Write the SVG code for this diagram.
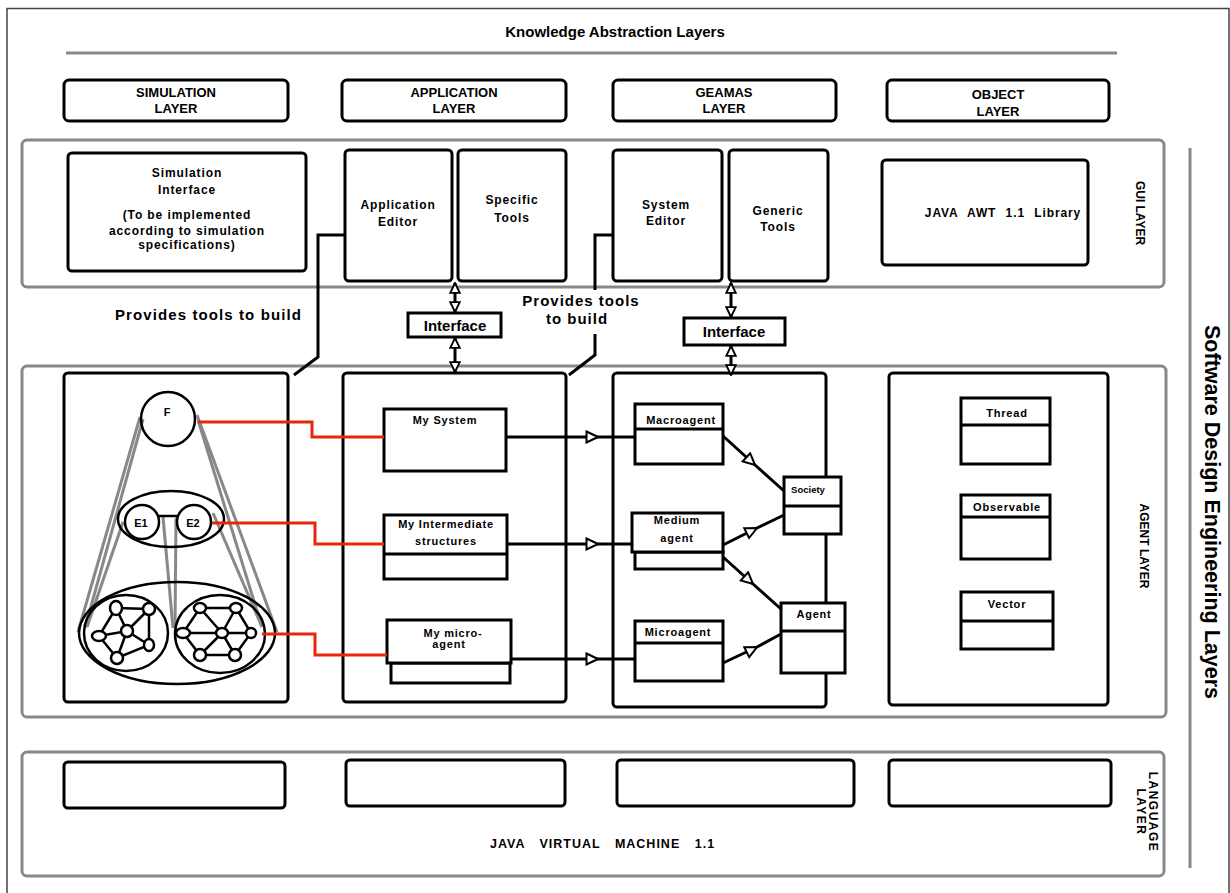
<svg xmlns="http://www.w3.org/2000/svg" width="1230" height="893" viewBox="0 0 1230 893">
<defs>
<style>
.t{font-family:"Liberation Sans",Arial,sans-serif;font-weight:bold;fill:#000}
.box{fill:#fff;stroke:#000;stroke-width:3}
.layer{fill:none;stroke:#888;stroke-width:3}
.ln{fill:none;stroke:#000;stroke-width:3}
.red{fill:none;stroke:#e8260a;stroke-width:3}
.cone{fill:none;stroke:#888;stroke-width:3}
.net{fill:none;stroke:#000;stroke-width:2.5}
.nd{fill:#fff;stroke:#000;stroke-width:2.5}
.g{letter-spacing:0.9px}
.c{letter-spacing:0.8px}
</style>
<marker id="tri" viewBox="0 0 14 14" markerWidth="14" markerHeight="14" refX="13" refY="7" orient="auto" markerUnits="userSpaceOnUse">
<path d="M1.5,1.5 L13,7 L1.5,12.5 Z" fill="#fff" stroke="#000" stroke-width="2"/>
</marker>
<marker id="tri2" viewBox="0 0 14 14" markerWidth="12" markerHeight="12" refX="13" refY="7" orient="auto-start-reverse" markerUnits="userSpaceOnUse">
<path d="M1.5,1.5 L13,7 L1.5,12.5 Z" fill="#fff" stroke="#000" stroke-width="2.2"/>
</marker>
</defs>
<rect width="1230" height="893" fill="#fff"/>
<!-- outer frame -->
<path d="M7,893 V8.5 H1229 V893" fill="none" stroke="#444" stroke-width="1.5"/>

<text class="t" x="615" y="37" font-size="15" text-anchor="middle">Knowledge Abstraction Layers</text>
<line x1="66" y1="53" x2="1117" y2="53" stroke="#888" stroke-width="3"/>

<g id="simulation-layer"><rect class="box" x="64" y="80" width="224" height="41" rx="5"/>
<text class="t" font-size="13" text-anchor="middle"><tspan x="176" y="97">SIMULATION</tspan><tspan x="176" y="113">LAYER</tspan></text></g>
<g id="application-layer"><rect class="box" x="342" y="80" width="224" height="41" rx="5"/>
<text class="t" font-size="13" text-anchor="middle"><tspan x="454" y="97">APPLICATION</tspan><tspan x="454" y="113">LAYER</tspan></text></g>
<g id="geamas-layer"><rect class="box" x="613" y="80" width="223" height="41" rx="5"/>
<text class="t" font-size="13" text-anchor="middle"><tspan x="724" y="97">GEAMAS</tspan><tspan x="724" y="113">LAYER</tspan></text></g>
<g id="object-layer"><rect class="box" x="887" y="80" width="222" height="41" rx="5"/>
<text class="t" font-size="13" text-anchor="middle"><tspan x="998" y="99">OBJECT</tspan><tspan x="998" y="116">LAYER</tspan></text></g>

<!-- GUI layer -->
<g id="gui-layer"><rect class="layer" x="22" y="140" width="1142" height="147" rx="5"/>
<text class="t" font-size="12" transform="translate(1136,213) rotate(90)" text-anchor="middle">GUI LAYER</text></g>
<g id="simulation-interface"><rect class="box" x="68" y="153" width="238" height="118" rx="4"/>
<text class="t g" font-size="12" text-anchor="middle"><tspan x="187" y="177">Simulation</tspan><tspan x="187" y="194">Interface</tspan><tspan x="187" y="219">(To be implemented</tspan><tspan x="187" y="235">according to simulation</tspan><tspan x="187" y="249">specifications)</tspan></text></g>
<g id="application-editor"><rect class="box" x="345" y="150" width="107" height="131" rx="4"/>
<text class="t g" font-size="12" text-anchor="middle"><tspan x="398" y="209">Application</tspan><tspan x="398" y="226">Editor</tspan></text></g>
<g id="specific-tools"><rect class="box" x="458" y="150" width="108" height="131" rx="4"/>
<text class="t g" font-size="12" text-anchor="middle"><tspan x="512" y="204">Specific</tspan><tspan x="512" y="222">Tools</tspan></text></g>
<g id="system-editor"><rect class="box" x="613" y="150" width="109" height="131" rx="4"/>
<text class="t g" font-size="12" text-anchor="middle"><tspan x="666" y="209">System</tspan><tspan x="666" y="225">Editor</tspan></text></g>
<g id="generic-tools"><rect class="box" x="729" y="150" width="99" height="131" rx="4"/>
<text class="t g" font-size="12" text-anchor="middle"><tspan x="778" y="215">Generic</tspan><tspan x="778" y="231">Tools</tspan></text></g>
<g id="java-awt"><rect class="box" x="882" y="160" width="206" height="105" rx="4"/>
<text class="t g" font-size="12" x="1003" y="217" text-anchor="middle" word-spacing="5">JAVA AWT 1.1 Library</text></g>

<g id="interface-1"><rect class="box" x="408" y="313" width="93" height="24"/>
<text class="t" font-size="15" x="455" y="331" text-anchor="middle">Interface</text></g>
<g id="interface-2"><rect class="box" x="684" y="318" width="101" height="27"/>
<text class="t" font-size="15" x="734" y="337" text-anchor="middle">Interface</text></g>

<text class="t" font-size="15" x="115" y="320" letter-spacing="1.1">Provides tools to build</text>
<text class="t" font-size="15" text-anchor="middle" letter-spacing="1"><tspan x="581" y="306">Provides tools</tspan><tspan x="577" y="324">to build</tspan></text>

<!-- Agent layer -->
<g id="agent-layer"><rect class="layer" x="22" y="366" width="1144" height="351" rx="5"/>
<text class="t" font-size="12" transform="translate(1140,546) rotate(90)" text-anchor="middle">AGENT LAYER</text></g>

<g id="simulation-agents">
<rect class="box" x="64" y="373" width="224" height="329" rx="4"/>
<g class="cone">
<line x1="140" y1="417" x2="78" y2="632"/>
<line x1="143" y1="419" x2="85" y2="628"/>
<line x1="123" y1="522" x2="87" y2="627"/>
<line x1="197" y1="415" x2="277" y2="632"/>
<line x1="198" y1="420" x2="262" y2="627"/>
<line x1="213" y1="513" x2="262" y2="627"/>
<line x1="163" y1="517" x2="173" y2="628"/>
<line x1="176" y1="518" x2="175" y2="628"/>
</g>
<circle class="net" cx="168" cy="419" r="27"/>
<text class="t" font-size="11" x="167" y="416" text-anchor="middle">F</text>
<ellipse class="net" cx="171" cy="519" rx="53" ry="28"/>
<line class="net" x1="159" y1="516" x2="177" y2="516"/>
<circle class="nd" cx="142" cy="522" r="17"/>
<circle class="nd" cx="194" cy="522" r="17"/>
<text class="t" font-size="11" x="141" y="527" text-anchor="middle">E1</text>
<text class="t" font-size="11" x="193" y="527" text-anchor="middle">E2</text>
<ellipse class="net" cx="177" cy="633" rx="98" ry="51"/>
<ellipse class="net" cx="126" cy="633" rx="42" ry="38"/>
<ellipse class="net" cx="220" cy="634" rx="45" ry="39"/>
<g class="net">
<path d="M116,608 L149,609 L149,645 L117,658 L99,636 Z M116,608 L127,631 L149,609 M99,636 L127,631 L117,658 M127,631 L149,645"/>
<path d="M200,608 L236,608 L251,633 L235,655 L200,655 L183,633 Z M222,633 L200,608 M222,633 L236,608 M222,633 L251,633 M222,633 L235,655 M222,633 L200,655 M222,633 L183,633"/>
</g>
<g class="nd">
<ellipse cx="116" cy="608" rx="6" ry="7"/><ellipse cx="149" cy="609" rx="6" ry="6"/><ellipse cx="99" cy="636" rx="7" ry="5"/>
<ellipse cx="127" cy="631" rx="6" ry="6"/><ellipse cx="149" cy="645" rx="5" ry="6"/><ellipse cx="117" cy="658" rx="6" ry="6"/>
<ellipse cx="200" cy="608" rx="6" ry="5"/><ellipse cx="236" cy="608" rx="6" ry="5"/><ellipse cx="183" cy="633" rx="7" ry="5"/>
<ellipse cx="222" cy="633" rx="6" ry="5"/><ellipse cx="251" cy="633" rx="5" ry="5"/><ellipse cx="200" cy="655" rx="6" ry="6"/><ellipse cx="235" cy="655" rx="6" ry="6"/>
</g>
</g>

<g id="application-agents">
<rect class="box" x="343" y="373" width="223" height="329" rx="4"/>
<g id="my-system"><rect class="box" x="384" y="409" width="122" height="62"/>
<text class="t c" font-size="11" x="445" y="424" text-anchor="middle">My System</text></g>
<g id="my-intermediate"><rect class="box" x="384" y="515" width="123" height="64"/><line class="ln" x1="384" y1="554" x2="507" y2="554"/>
<text class="t c" font-size="11" text-anchor="middle"><tspan x="446" y="528">My Intermediate</tspan><tspan x="446" y="545">structures</tspan></text></g>
<g id="my-micro-agent"><rect class="box" x="391" y="663" width="119" height="20"/><rect class="box" x="387" y="620" width="124" height="43"/>
<text class="t c" font-size="11" text-anchor="middle"><tspan x="453" y="637">My micro-</tspan><tspan x="449" y="648">agent</tspan></text></g>
</g>

<g id="geamas-agents">
<rect class="box" x="613" y="373" width="213" height="334" rx="4"/>
<g id="macroagent"><rect class="box" x="635" y="404" width="88" height="60"/><line class="ln" x1="635" y1="429" x2="723" y2="429"/>
<text class="t c" font-size="11" x="681" y="424" text-anchor="middle">Macroagent</text></g>
<g id="medium-agent"><rect class="box" x="635" y="552" width="88" height="17"/><rect class="box" x="632" y="513" width="91" height="39"/>
<text class="t c" font-size="11" text-anchor="middle"><tspan x="677" y="524">Medium</tspan><tspan x="677" y="542">agent</tspan></text></g>
<g id="microagent"><rect class="box" x="635" y="621" width="88" height="60"/><line class="ln" x1="635" y1="643" x2="723" y2="643"/>
<text class="t c" font-size="11" x="678" y="636" text-anchor="middle">Microagent</text></g>
<g id="society"><rect class="box" x="784" y="477" width="57" height="57"/><line class="ln" x1="784" y1="506" x2="841" y2="506"/>
<text class="t" font-size="9.5" x="808" y="493" text-anchor="middle">Society</text></g>
<g id="agent"><rect class="box" x="781" y="603" width="64" height="70"/><line class="ln" x1="781" y1="631" x2="845" y2="631"/>
<text class="t c" font-size="11" x="814" y="618" text-anchor="middle">Agent</text></g>
</g>

<g id="object-agents">
<rect class="box" x="889" y="373" width="219" height="332" rx="4"/>
<g id="thread"><rect class="box" x="961" y="398" width="89" height="66"/><line class="ln" x1="961" y1="425" x2="1050" y2="425"/>
<text class="t c" font-size="11" x="1007" y="417" text-anchor="middle">Thread</text></g>
<g id="observable"><rect class="box" x="961" y="495" width="89" height="64"/><line class="ln" x1="961" y1="517" x2="1050" y2="517"/>
<text class="t c" font-size="11" x="1007" y="511" text-anchor="middle">Observable</text></g>
<g id="vector"><rect class="box" x="961" y="592" width="92" height="57"/><line class="ln" x1="961" y1="621" x2="1053" y2="621"/>
<text class="t c" font-size="11" x="1007" y="608" text-anchor="middle">Vector</text></g>
</g>

<!-- Language layer -->
<g id="language-layer"><rect class="layer" x="22" y="752" width="1142" height="124" rx="5"/>
<rect class="box" x="64" y="762" width="221" height="46" rx="4"/>
<rect class="box" x="346" y="760" width="219" height="46" rx="4"/>
<rect class="box" x="617" y="760" width="237" height="46" rx="4"/>
<rect class="box" x="889" y="760" width="222" height="46" rx="4"/>
<text class="t" font-size="12.5" x="490" y="848" letter-spacing="1" word-spacing="10">JAVA VIRTUAL MACHINE 1.1</text>
<text class="t" font-size="12" letter-spacing="1.5" transform="translate(1149,812) rotate(90)" text-anchor="middle">LANGUAGE</text>
<text class="t" font-size="12" letter-spacing="1.5" transform="translate(1137,812) rotate(90)" text-anchor="middle">LAYER</text>
</g>

<line x1="1190" y1="148" x2="1190" y2="868" stroke="#888" stroke-width="3"/>
<text class="t" font-size="21.5" transform="translate(1205,512) rotate(90)" text-anchor="middle">Software Design Engineering Layers</text>

<!-- connectors -->
<g id="connectors">
<path class="ln" d="M345,235 H318 V357 L294,375"/>
<path class="ln" d="M613,235 H595 V290 M595,334 V355 L569,375"/>
<line class="ln" x1="455" y1="283" x2="455" y2="312" marker-start="url(#tri2)" marker-end="url(#tri2)"/>
<line class="ln" x1="455" y1="338" x2="455" y2="372" marker-start="url(#tri2)" marker-end="url(#tri2)"/>
<line class="ln" x1="731" y1="283" x2="731" y2="317" marker-start="url(#tri2)" marker-end="url(#tri2)"/>
<line class="ln" x1="731" y1="346" x2="731" y2="375" marker-start="url(#tri2)" marker-end="url(#tri2)"/>
<path class="red" d="M198,422 H312 V437 H384"/>
<path class="red" d="M212,523 H315 V544 H384"/>
<path class="red" d="M262,634 H315 V655 H387"/>
<polyline class="ln" points="506,437 598,437 635,437" marker-mid="url(#tri)"/>
<polyline class="ln" points="507,544 598,544 632,544" marker-mid="url(#tri)"/>
<polyline class="ln" points="511,659 598,659 635,659" marker-mid="url(#tri)"/>
<polyline class="ln" points="723,436 755,465 784,491" marker-mid="url(#tri)"/>
<polyline class="ln" points="723,545 757,528 784,515" marker-mid="url(#tri)"/>
<polyline class="ln" points="723,557 753,584 781,609" marker-mid="url(#tri)"/>
<polyline class="ln" points="723,663 757,647 781,634" marker-mid="url(#tri)"/>
</g>
</svg>
